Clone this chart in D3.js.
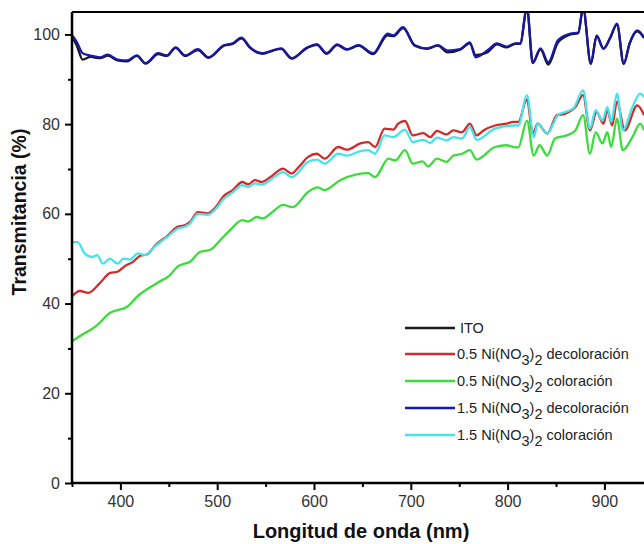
<!DOCTYPE html>
<html><head><meta charset="utf-8">
<script src="https://cdn.jsdelivr.net/npm/d3@7"></script>
<style>body{margin:0;background:#fff}svg{display:block}</style>
</head><body><svg id="c" width="644" height="544"></svg>
<script>
// ---- data (wavelength nm, transmittance %) ----
const xTicksMajor = [400, 500, 600, 700, 800, 900];
const xTicksMinor = [350, 450, 550, 650, 750, 850, 950];
const yTicksMajor = [0, 20, 40, 60, 80, 100];
const yTicksMinor = [10, 30, 50, 70, 90];

const blueNm = [350,355,361,369,379,387,397,407,417,426,439,448,457,467,480,491,507,516,525,534,546,566,577,593,603,613,624,634,646,661,676,682,692,704,717,728,738,751,761,767,779,789,799,808,813,820,826,834,842,852,865,873,878,886,892,899,906,913,920,926,934,941];
const blueT  = [99.8,98.3,95.8,95.3,94.9,95.5,94.4,94.2,95.3,93.6,95.8,95.3,97.1,95.3,96.7,94.9,97.6,98.0,99.3,97.1,95.8,96.9,94.7,97.1,97.8,95.8,97.8,96.7,97.6,95.8,100.2,99.8,101.6,97.6,96.9,97.6,96.4,96.7,98.2,94.9,96.4,98.0,97.3,98.0,98.0,106,93.8,96.9,93.8,98.7,100.2,100.4,106,93.5,99.8,96.9,99.3,102.4,93.5,98.0,100.9,99.3];

const itoNm = [350,355,361,369,379,387,397,407,417,426,439,448,457,467,480,491,507,516,525,534,546,566,577,593,603,613,624,634,646,661,676,682,692,704,717,728,738,751,761,767,779,789,799,808,813,820,826,834,842,852,865,873,878,886,892,899,906,913,920,926,934,941];
const itoT  = [99.6,97.5,94.4,95.0,94.7,95.3,94.2,94.0,95.2,93.5,95.6,95.2,97.0,95.2,96.5,94.8,97.5,97.9,99.1,97.0,95.7,96.8,94.6,97.0,97.7,95.7,97.6,96.6,97.5,95.6,99.8,99.6,101.4,97.5,96.8,97.5,96.0,96.6,98.0,95.4,96.0,97.8,97.1,97.9,97.9,105.8,93.6,96.7,93.3,98.2,100.0,100.3,105.8,93.4,99.6,96.8,99.2,102.2,93.4,97.9,100.7,99.2];

const redNm = [350,358,367,379,389,397,405,413,420,428,436,448,459,467,472,480,490,500,506,516,526,532,539,546,555,568,577,584,594,603,611,625,634,648,656,663,673,682,687,694,702,713,720,727,737,744,753,761,768,775,787,799,806,811,820,826,831,841,851,859,870,878,885,892,899,903,908,913,921,934,941];
const redT  = [41.6,42.8,42.4,44.6,46.8,47.1,48.4,49.3,50.6,51.0,53.0,55.0,57.1,57.5,58.2,60.4,60.1,61.9,63.8,65.3,67.1,66.6,67.5,67.1,68.2,70.1,69.0,70.4,72.7,73.4,72.3,74.9,74.3,75.7,76.0,74.9,79.0,78.8,80.1,80.7,77.5,78.0,77.1,78.5,77.7,78.6,78.2,80.1,77.5,78.6,79.7,80.1,80.5,80.5,85.5,77.9,80.1,77.9,82.0,82.3,83.8,86.5,78.6,82.7,80.1,83.1,79.7,85.0,78.6,84.2,82.0];

const greenNm = [350,363,369,376,389,407,417,438,451,460,465,472,482,493,503,513,526,532,541,547,558,568,578,594,604,611,627,644,656,663,677,684,694,702,712,718,727,737,744,753,761,768,787,799,806,811,820,827,833,841,849,861,870,878,885,891,898,903,907,913,919,929,937,941];
const greenT  = [31.6,33.4,34.1,35.2,37.9,39.3,41.5,44.6,46.3,48.4,48.8,49.3,51.5,52.0,54.1,56.3,58.6,58.3,59.3,59.0,60.6,62.0,61.5,64.9,65.9,65.3,67.5,68.8,69.1,68.2,72.3,71.9,74.2,71.2,71.7,70.6,72.3,71.6,73.0,73.4,74.2,72.1,74.9,75.3,74.9,74.8,80.8,73.0,75.3,73.0,76.8,77.5,78.6,82.0,73.4,78.2,75.7,78.2,74.9,81.2,74.2,77.1,80.1,78.6];

const cyanNm = [350,356,363,371,376,382,389,397,403,410,418,425,436,448,459,467,472,480,490,500,506,516,526,532,539,546,555,568,577,594,603,611,625,634,648,656,663,673,682,694,702,713,720,727,737,744,753,761,768,787,806,811,820,827,831,841,852,868,878,885,891,898,903,907,913,919,929,937,941];
const cyanT  = [53.7,53.7,51.2,50.4,50.8,48.9,50.0,48.9,50.0,49.8,51.2,50.8,52.8,54.8,56.7,57.2,57.9,60.0,59.8,61.5,63.2,64.8,66.4,66.0,66.8,66.5,67.6,69.3,68.2,71.6,72.1,71.2,73.4,73.0,74.0,74.2,73.4,77.5,77.1,78.8,76.0,76.5,75.8,77.0,76.4,77.1,76.8,79.4,76.5,79.0,79.7,79.7,86.4,77.1,80.1,78.0,82.0,83.5,87.5,79.0,83.1,80.8,83.8,80.5,86.8,78.6,83.8,86.8,86.0];

const seriesNames = ["ITO", "0.5 decoloración", "0.5 coloración", "1.5 decoloración", "1.5 coloración"];
const seriesColors = ["#1a1a1a", "#d42a2a", "#3cdc3c", "#1818b4", "#44e4ea"];
const legendPrefix = ["", "0.5", "0.5", "1.5", "1.5"];
const legendSuffix = ["", "decoloración", "coloración", "decoloración", "coloración"];

// ---- layout ----
const svg = d3.select("#c");
const mLeft = 72, mTop = 12, mBottom = 483;
const x = d3.scaleLinear().domain([350, 950]).range([mLeft, mLeft + 600 * 0.968]);
const y = d3.scaleLinear().domain([0, 105]).range([mBottom, mTop]);

svg.append("defs").append("clipPath").attr("id", "clip")
  .append("rect").attr("x", mLeft).attr("y", mTop).attr("width", 700).attr("height", mBottom - mTop);

const pairs = (nm, t) => nm.map((v, i) => [v, t[i]]);
const data = [pairs(itoNm, itoT), pairs(redNm, redT), pairs(greenNm, greenT), pairs(blueNm, blueT), pairs(cyanNm, cyanT)];
const line = d3.line().x(d => x(d[0])).y(d => y(d[1])).curve(d3.curveMonotoneX);

const g = svg.append("g").attr("clip-path", "url(#clip)");
const order = [0, 3, 1, 4, 2];
order.forEach(i => {
  g.append("path").datum(data[i]).attr("d", line)
    .attr("fill", "none").attr("stroke", seriesColors[i]).attr("stroke-width", 2.3)
    .attr("stroke-linejoin", "round");
});
g.append("path").datum(data[0]).attr("d", line).attr("fill", "none")
  .attr("stroke", seriesColors[0]).attr("stroke-width", 1).attr("opacity", 0.35);

// ---- axes ----
const font = "'Liberation Sans', Arial, sans-serif";
svg.append("g").attr("transform", `translate(0,${mBottom})`)
  .call(d3.axisBottom(x).tickValues(xTicksMajor).tickSize(7).tickPadding(6).tickFormat(d3.format("d")));
svg.append("g").attr("transform", `translate(0,${mBottom})`)
  .call(d3.axisBottom(x).tickValues(xTicksMinor).tickSize(4).tickFormat(""));
svg.append("g").attr("transform", `translate(${mLeft},0)`)
  .call(d3.axisLeft(y).tickValues(yTicksMajor).tickSize(7).tickPadding(5).tickFormat(d3.format("d")));
svg.append("g").attr("transform", `translate(${mLeft},0)`)
  .call(d3.axisLeft(y).tickValues(yTicksMinor).tickSize(4).tickFormat(""));
svg.selectAll(".domain").remove();
svg.selectAll(".tick line").attr("stroke", "#000").attr("stroke-width", 2);
svg.selectAll(".tick text").attr("font-family", font).attr("font-size", 16).attr("fill", "#333");

svg.append("line").attr("x1", mLeft).attr("x2", 644).attr("y1", mBottom).attr("y2", mBottom).attr("stroke", "#000").attr("stroke-width", 2.5);
svg.append("line").attr("x1", mLeft).attr("x2", mLeft).attr("y1", mTop).attr("y2", mBottom + 1).attr("stroke", "#000").attr("stroke-width", 2.5);
svg.append("line").attr("x1", mLeft).attr("x2", 644).attr("y1", mTop).attr("y2", mTop).attr("stroke", "#000").attr("stroke-width", 2);

svg.append("text").attr("x", 361).attr("y", 538).attr("text-anchor", "middle")
  .attr("font-family", font).attr("font-weight", "bold").attr("font-size", 20).attr("fill", "#111")
  .text("Longitud de onda (nm)");
svg.append("text").attr("transform", "translate(26,212) rotate(-90)").attr("text-anchor", "middle")
  .attr("font-family", font).attr("font-weight", "bold").attr("font-size", 19.5).attr("fill", "#111")
  .text("Transmitancia (%)");

// ---- legend ----
const legY = [328, 354, 381, 408, 435];
seriesNames.forEach((n, i) => {
  const ly = legY[i];
  svg.append("line").attr("x1", 405).attr("x2", 455).attr("y1", ly).attr("y2", ly)
    .attr("stroke", seriesColors[i]).attr("stroke-width", 2.3);
  const t = svg.append("text").attr("x", i === 0 ? 460 : 457).attr("y", ly + 5)
    .attr("font-family", font).attr("font-size", 14.5).attr("fill", "#222");
  if (i === 0) { t.text("ITO"); return; }
  t.append("tspan").text(legendPrefix[i] + " Ni(NO");
  t.append("tspan").attr("dy", 6).text("3");
  t.append("tspan").attr("dy", -6).text(")");
  t.append("tspan").attr("dy", 6).text("2");
  t.append("tspan").attr("dy", -6).text(" " + legendSuffix[i]);
});
</script>
</body></html>
